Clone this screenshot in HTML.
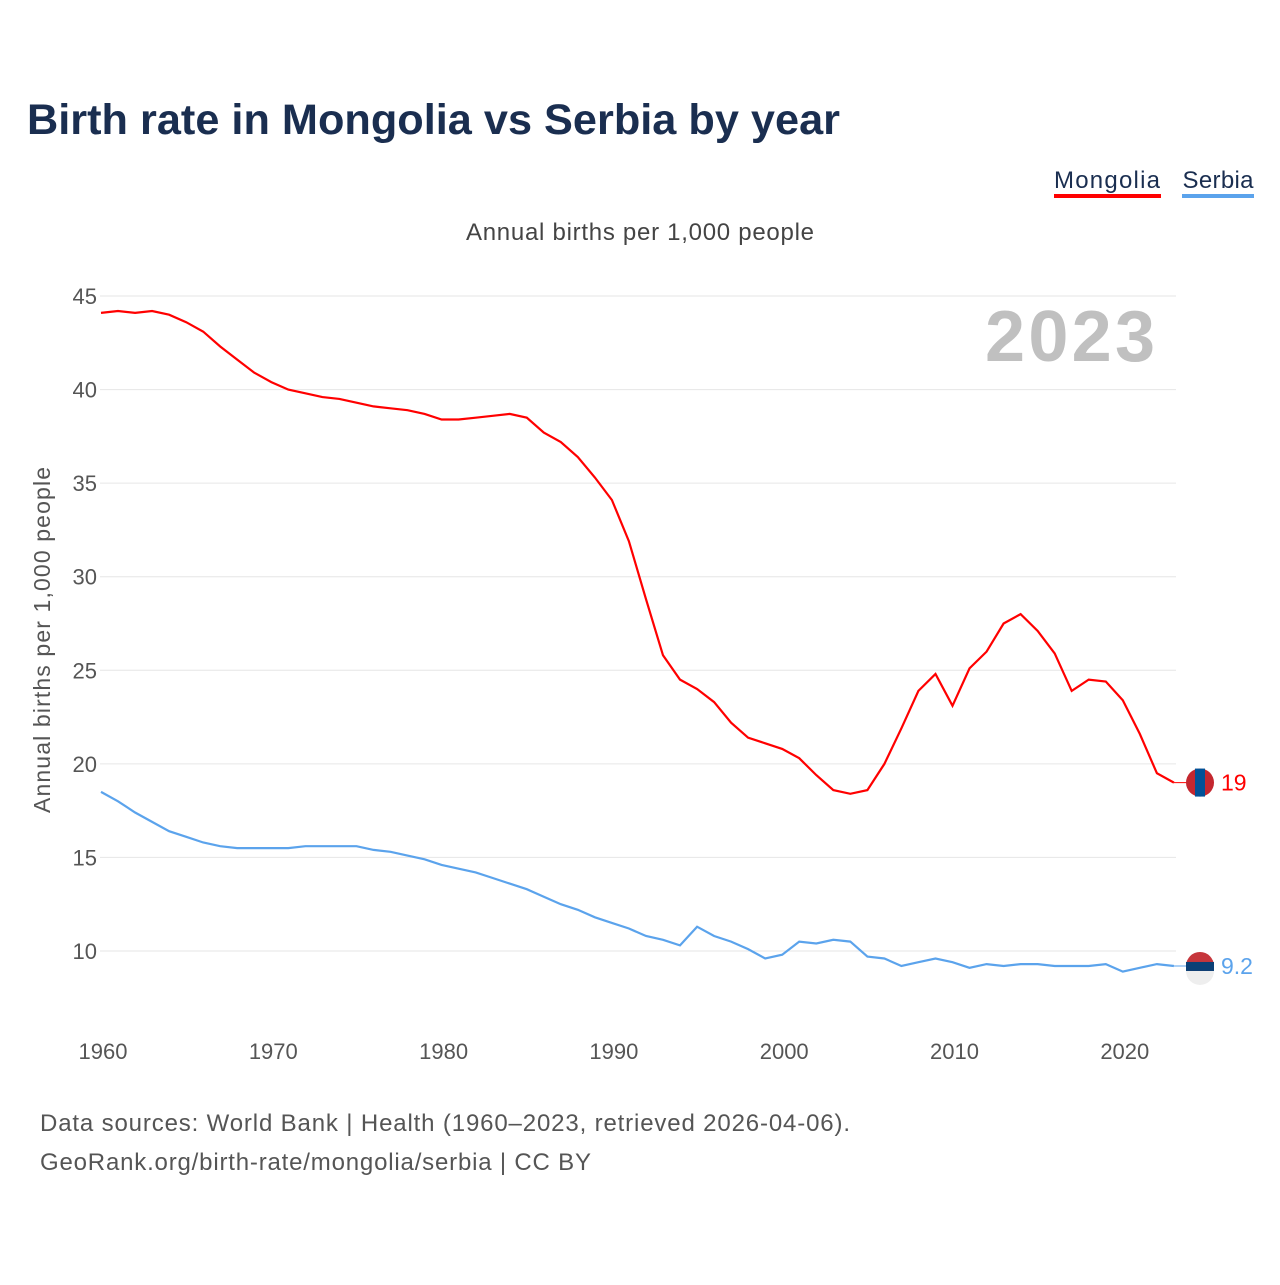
<!DOCTYPE html>
<html><head><meta charset="utf-8"><style>
body{margin:0;width:1280px;height:1280px;background:#fff;font-family:"Liberation Sans",sans-serif;overflow:hidden}
</style></head><body>
<svg width="1280" height="1280" id="svg">
<text x="27" y="134" font-size="43" font-weight="bold" fill="#1a2e50" textLength="813" lengthAdjust="spacingAndGlyphs">Birth rate in Mongolia vs Serbia by year</text>
<g><text x="1107" y="188" font-size="24" fill="#1a2e50" text-anchor="middle" textLength="106">Mongolia</text><rect x="1054" y="194" width="107" height="4" fill="#ff0000"/></g>
<g><text x="1218" y="188" font-size="24" fill="#1a2e50" text-anchor="middle" textLength="71">Serbia</text><rect x="1182" y="194" width="72" height="4" fill="#5ba3ec"/></g>
<text x="640" y="240" font-size="24" fill="#444" text-anchor="middle" textLength="348">Annual births per 1,000 people</text>
<text x="1155" y="361" font-size="72" font-weight="bold" fill="#c0c0c0" text-anchor="end" textLength="170">2023</text>
<text transform="translate(50,640) rotate(-90)" font-size="23" fill="#555" text-anchor="middle" textLength="346">Annual births per 1,000 people</text>
<g id="grid"></g><g id="lines"></g>
<text x="40" y="1131" font-size="24" fill="#555" textLength="810">Data sources: World Bank | Health (1960–2023, retrieved 2026-04-06).</text>
<text x="40" y="1170" font-size="24" fill="#555" textLength="551">GeoRank.org/birth-rate/mongolia/serbia | CC BY</text>
</svg>
<script>
const years=[];for(let y=1960;y<=2023;y++)years.push(y);
const mongolia=[44.1,44.2,44.1,44.2,44.0,43.6,43.1,42.3,41.6,40.9,40.4,40.0,39.8,39.6,39.5,39.3,39.1,39.0,38.9,38.7,38.4,38.4,38.5,38.6,38.7,38.5,37.7,37.2,36.4,35.3,34.1,31.9,28.8,25.8,24.5,24.0,23.3,22.2,21.4,21.1,20.8,20.3,19.4,18.6,18.4,18.6,20.0,21.9,23.9,24.8,23.1,25.1,26.0,27.5,28.0,27.1,25.9,23.9,24.5,24.4,23.4,21.6,19.5,19.0];
const serbia=[18.5,18.0,17.4,16.9,16.4,16.1,15.8,15.6,15.5,15.5,15.5,15.5,15.6,15.6,15.6,15.6,15.4,15.3,15.1,14.9,14.6,14.4,14.2,13.9,13.6,13.3,12.9,12.5,12.2,11.8,11.5,11.2,10.8,10.6,10.3,11.3,10.8,10.5,10.1,9.6,9.8,10.5,10.4,10.6,10.5,9.7,9.6,9.2,9.4,9.6,9.4,9.1,9.3,9.2,9.3,9.3,9.2,9.2,9.2,9.3,8.9,9.1,9.3,9.2];
const yTicks=[10,15,20,25,30,35,40,45];
const xTicks=[1960,1970,1980,1990,2000,2010,2020];
const endLabels=["19","9.2"];
const NS="http://www.w3.org/2000/svg";
const X=y=>101+(y-1960)*17.03, Y=v=>951-(v-10)*18.714;
function mk(t,a,p){const e=document.createElementNS(NS,t);for(const k in a)e.setAttribute(k,a[k]);p.appendChild(e);return e;}
const g=document.getElementById('grid'),L=document.getElementById('lines');
yTicks.forEach(v=>{const l=mk('line',{x1:100,x2:1176,y1:Y(v),y2:Y(v),stroke:'#e6e6e6','stroke-width':1},g);


const t=mk('text',{x:97,y:Y(v)+8,'font-size':22,fill:'#555','text-anchor':'end'},g);t.textContent=v;

});
xTicks.forEach(v=>{const t=mk('text',{x:X(v)+2,y:1059,'font-size':22,fill:'#555','text-anchor':'middle'},g);t.textContent=v;

});
[[mongolia,'#ff0000','mongolia'],[serbia,'#5ba3ec','serbia']].forEach(([d,c,n],i)=>{
const p=mk('path',{d:d.map((v,j)=>(j?'L':'M')+X(years[j]).toFixed(1)+','+Y(v).toFixed(1)).join(''),fill:'none',stroke:c,'stroke-width':2.2},L);


const ly=Y(d[d.length-1]), lx=X(2023);
mk('line',{x1:lx,x2:1190,y1:ly,y2:ly,stroke:c,'stroke-width':1},L);
const f=mk('circle',{cx:1200,cy:ly,r:14,fill:i?'#c6363c':'#c4272f'},L);


if(i){mk('rect',{x:1186,y:ly-4,width:28,height:9,fill:'#0c4076'},L);mk('path',{d:`M1186,${ly+5}h28a14,14 0 0 1 -28,0z`,fill:'#eee'},L);}
else mk('rect',{x:1195,y:ly-14,width:10,height:28,fill:'#015197'},L);
const t=mk('text',{x:1221,y:ly+8,'font-size':23,fill:c},L);t.textContent=endLabels[i];


});
</script>
</body></html>
